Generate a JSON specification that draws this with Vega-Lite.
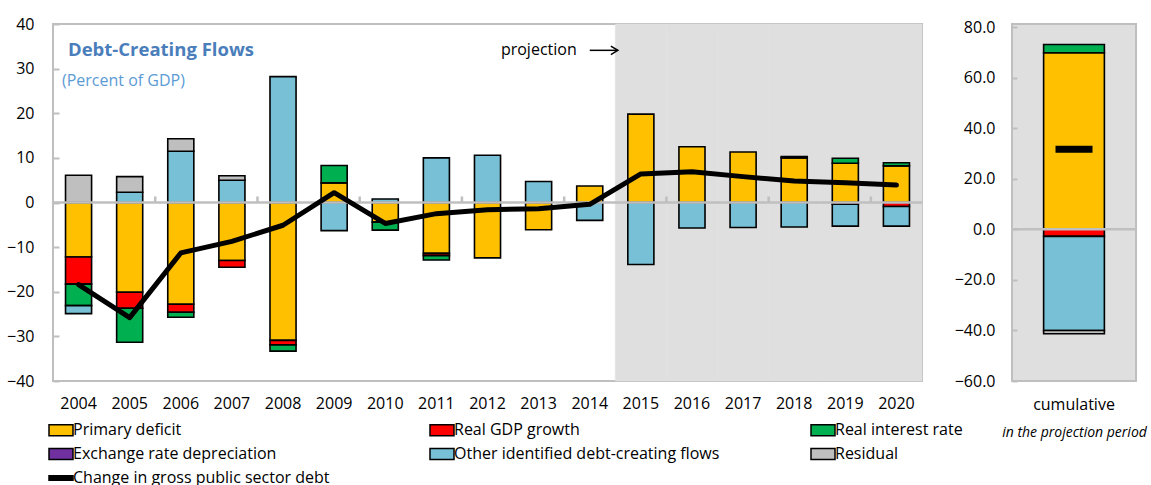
{
  "$schema": "https://vega.github.io/schema/vega-lite/v6.json",
  "padding": {"left": 5, "top": 15, "right": 5, "bottom": 0},
  "bounds": "flush",
  "spacing": 90,
  "config": {
    "font": "Open Sans",
    "view": {"stroke": "#bfbfbf", "strokeWidth": 2},
    "axis": {"labelFont": "Open Sans", "labelFontSize": 16, "labelColor": "#000000", "grid": false, "domain": false, "titleFont": "Open Sans"}
  },
  "datasets": {
    "flows": [
      {"year": 2004, "series": "Primary deficit", "k": 1, "value": -12.2},
      {"year": 2004, "series": "Real GDP growth", "k": 2, "value": -6.1},
      {"year": 2004, "series": "Real interest rate", "k": 3, "value": -4.8},
      {"year": 2004, "series": "Other identified debt-creating flows", "k": 5, "value": -1.8},
      {"year": 2004, "series": "Residual", "k": 6, "value": 6.1},
      {"year": 2005, "series": "Primary deficit", "k": 1, "value": -20.1},
      {"year": 2005, "series": "Real GDP growth", "k": 2, "value": -3.6},
      {"year": 2005, "series": "Real interest rate", "k": 3, "value": -7.6},
      {"year": 2005, "series": "Other identified debt-creating flows", "k": 5, "value": 2.3},
      {"year": 2005, "series": "Residual", "k": 6, "value": 3.5},
      {"year": 2006, "series": "Primary deficit", "k": 1, "value": -22.8},
      {"year": 2006, "series": "Real GDP growth", "k": 2, "value": -1.8},
      {"year": 2006, "series": "Real interest rate", "k": 3, "value": -1.1},
      {"year": 2006, "series": "Other identified debt-creating flows", "k": 5, "value": 11.5},
      {"year": 2006, "series": "Residual", "k": 6, "value": 2.8},
      {"year": 2007, "series": "Primary deficit", "k": 1, "value": -13.0},
      {"year": 2007, "series": "Real GDP growth", "k": 2, "value": -1.5},
      {"year": 2007, "series": "Other identified debt-creating flows", "k": 5, "value": 5.0},
      {"year": 2007, "series": "Residual", "k": 6, "value": 1.0},
      {"year": 2008, "series": "Primary deficit", "k": 1, "value": -30.9},
      {"year": 2008, "series": "Real GDP growth", "k": 2, "value": -1.0},
      {"year": 2008, "series": "Real interest rate", "k": 3, "value": -1.4},
      {"year": 2008, "series": "Other identified debt-creating flows", "k": 5, "value": 28.2},
      {"year": 2009, "series": "Primary deficit", "k": 1, "value": 4.4},
      {"year": 2009, "series": "Real interest rate", "k": 3, "value": 3.9},
      {"year": 2009, "series": "Other identified debt-creating flows", "k": 5, "value": -6.3},
      {"year": 2010, "series": "Primary deficit", "k": 1, "value": -4.4},
      {"year": 2010, "series": "Real interest rate", "k": 3, "value": -1.8},
      {"year": 2010, "series": "Other identified debt-creating flows", "k": 5, "value": 0.8},
      {"year": 2011, "series": "Primary deficit", "k": 1, "value": -11.4},
      {"year": 2011, "series": "Real GDP growth", "k": 2, "value": -0.5},
      {"year": 2011, "series": "Real interest rate", "k": 3, "value": -1.0},
      {"year": 2011, "series": "Other identified debt-creating flows", "k": 5, "value": 10.0},
      {"year": 2012, "series": "Primary deficit", "k": 1, "value": -12.4},
      {"year": 2012, "series": "Other identified debt-creating flows", "k": 5, "value": 10.6},
      {"year": 2013, "series": "Primary deficit", "k": 1, "value": -6.1},
      {"year": 2013, "series": "Other identified debt-creating flows", "k": 5, "value": 4.7},
      {"year": 2014, "series": "Primary deficit", "k": 1, "value": 3.7},
      {"year": 2014, "series": "Other identified debt-creating flows", "k": 5, "value": -4.0},
      {"year": 2015, "series": "Primary deficit", "k": 1, "value": 19.8},
      {"year": 2015, "series": "Other identified debt-creating flows", "k": 5, "value": -13.9},
      {"year": 2016, "series": "Primary deficit", "k": 1, "value": 12.5},
      {"year": 2016, "series": "Other identified debt-creating flows", "k": 5, "value": -5.7},
      {"year": 2017, "series": "Primary deficit", "k": 1, "value": 11.3},
      {"year": 2017, "series": "Other identified debt-creating flows", "k": 5, "value": -5.6},
      {"year": 2018, "series": "Primary deficit", "k": 1, "value": 10.0},
      {"year": 2018, "series": "Real interest rate", "k": 3, "value": 0.3},
      {"year": 2018, "series": "Other identified debt-creating flows", "k": 5, "value": -5.5},
      {"year": 2019, "series": "Primary deficit", "k": 1, "value": 8.8},
      {"year": 2019, "series": "Real interest rate", "k": 3, "value": 1.1},
      {"year": 2019, "series": "Real GDP growth", "k": 2, "value": -0.4},
      {"year": 2019, "series": "Other identified debt-creating flows", "k": 5, "value": -4.9},
      {"year": 2020, "series": "Primary deficit", "k": 1, "value": 8.2},
      {"year": 2020, "series": "Real interest rate", "k": 3, "value": 0.7},
      {"year": 2020, "series": "Real GDP growth", "k": 2, "value": -0.9},
      {"year": 2020, "series": "Other identified debt-creating flows", "k": 5, "value": -4.4}
    ],
    "debt": [
      {"year": 2004, "debt": -18.4},
      {"year": 2005, "debt": -25.8},
      {"year": 2006, "debt": -11.3},
      {"year": 2007, "debt": -8.7},
      {"year": 2008, "debt": -5.1},
      {"year": 2009, "debt": 2.2},
      {"year": 2010, "debt": -4.7},
      {"year": 2011, "debt": -2.5},
      {"year": 2012, "debt": -1.6},
      {"year": 2013, "debt": -1.4},
      {"year": 2014, "debt": -0.4},
      {"year": 2015, "debt": 6.4},
      {"year": 2016, "debt": 6.9},
      {"year": 2017, "debt": 5.8},
      {"year": 2018, "debt": 4.8},
      {"year": 2019, "debt": 4.4},
      {"year": 2020, "debt": 3.9}
    ],
    "shade": [{"year": 2015}, {"year": 2016}, {"year": 2017}, {"year": 2018}, {"year": 2019}, {"year": 2020}],
    "ticks": [{"year": 2006}, {"year": 2008}, {"year": 2010}, {"year": 2012}, {"year": 2014}, {"year": 2016}, {"year": 2018}, {"year": 2020}],
    "cum": [
      {"period": "cumulative", "series": "Primary deficit", "k": 1, "value": 69.8},
      {"period": "cumulative", "series": "Real GDP growth", "k": 2, "value": -2.8},
      {"period": "cumulative", "series": "Real interest rate", "k": 3, "value": 3.3},
      {"period": "cumulative", "series": "Other identified debt-creating flows", "k": 5, "value": -37.2},
      {"period": "cumulative", "series": "Residual", "k": 6, "value": -1.3}
    ],
    "cumdebt": [{"period": "cumulative", "debt": 31.7}]
  },
  "hconcat": [
    {
      "width": 869,
      "height": 357,
      "layer": [
        {
          "data": {"name": "shade"},
          "mark": {"type": "rect", "fill": "#dfdfdf", "stroke": "#dfdfdf", "strokeWidth": 0.5},
          "encoding": {
            "x": {"field": "year", "type": "ordinal"},
            "y": {"datum": -40, "type": "quantitative"},
            "y2": {"datum": 40}
          }
        },
        {
          "data": {"name": "flows"},
          "mark": {"type": "bar", "stroke": "#000000", "strokeWidth": 1.6, "width": {"band": 0.51}},
          "encoding": {
            "x": {
              "field": "year", "type": "ordinal",
              "scale": {"domain": [2004, 2005, 2006, 2007, 2008, 2009, 2010, 2011, 2012, 2013, 2014, 2015, 2016, 2017, 2018, 2019, 2020], "paddingInner": 0, "paddingOuter": 0},
              "axis": {"title": null, "ticks": false, "labelPadding": 14, "labelAngle": 0, "labelAlign": "center", "labelBaseline": "top", "bandPosition": 0.5}
            },
            "y": {
              "field": "value", "type": "quantitative", "stack": "zero",
              "scale": {"domain": [-40, 40], "nice": false},
              "axis": {"title": null, "values": [-40, -30, -20, -10, 0, 10, 20, 30, 40], "tickSize": -6, "tickColor": "#bfbfbf", "tickWidth": 2, "labelPadding": 25}
            },
            "order": {"field": "k", "type": "quantitative", "sort": "ascending"},
            "color": {
              "field": "series", "type": "nominal",
              "scale": {
                "domain": ["Primary deficit", "Real GDP growth", "Real interest rate", "Exchange rate depreciation", "Other identified debt-creating flows", "Residual", "Change in gross public sector debt"],
                "range": ["#FFC000", "#FF0000", "#00B050", "#7030A0", "#78C0D6", "#BFBFBF", "#000000"]
              },
              "legend": {
                "title": null, "orient": "none", "legendX": 0, "legendY": 398, "direction": "horizontal",
                "columns": 3, "gridAlign": "all", "columnPadding": 88, "rowPadding": 6,
                "labelFont": "Open Sans", "labelFontSize": 16, "labelColor": "#000000", "labelOffset": 4, "labelLimit": 400,
                "symbolSize": 144,
                "symbolType": {"expr": "datum.value === 'Change in gross public sector debt' ? 'M-2,-0.36H2V0.36H-2Z' : 'M-2,-0.92H2V0.92H-2Z'"},
                "symbolStrokeColor": "#000000",
                "symbolStrokeWidth": 1.5
              }
            }
          }
        },
        {
          "data": {"values": [{}]},
          "mark": {"type": "rule", "color": "#bfbfbf", "strokeWidth": 2.5},
          "encoding": {"y": {"datum": 0, "type": "quantitative"}}
        },
        {
          "data": {"name": "ticks"},
          "mark": {"type": "rule", "color": "#bfbfbf", "strokeWidth": 2.5, "xOffset": -25.56},
          "encoding": {
            "x": {"field": "year", "type": "ordinal"},
            "y": {"datum": 0, "type": "quantitative"},
            "y2": {"datum": 1.35}
          }
        },
        {
          "data": {"name": "debt"},
          "mark": {"type": "line", "color": "#000000", "strokeWidth": 5, "strokeJoin": "round", "strokeCap": "round"},
          "encoding": {
            "x": {"field": "year", "type": "ordinal"},
            "y": {"field": "debt", "type": "quantitative"}
          }
        },
        {
          "data": {"values": [{}]},
          "mark": {"type": "text", "text": "Debt-Creating  Flows", "align": "left", "baseline": "middle", "fontSize": 18.5, "fontWeight": "bold", "color": "#4a7ebb", "dx": -10.6},
          "encoding": {"x": {"datum": 2004, "type": "ordinal"}, "y": {"datum": 34.1, "type": "quantitative"}}
        },
        {
          "data": {"values": [{}]},
          "mark": {"type": "text", "text": "(Percent of GDP)", "align": "left", "baseline": "middle", "fontSize": 16, "color": "#5b9bd5", "dx": -16.6},
          "encoding": {"x": {"datum": 2004, "type": "ordinal"}, "y": {"datum": 27.2, "type": "quantitative"}}
        },
        {
          "data": {"values": [{}]},
          "mark": {"type": "text", "text": "projection", "align": "right", "baseline": "middle", "fontSize": 16, "color": "#000000", "dx": -13},
          "encoding": {"x": {"datum": 2014, "type": "ordinal"}, "y": {"datum": 34.1, "type": "quantitative"}}
        },
        {
          "data": {"values": [{}]},
          "mark": {"type": "rule", "color": "#000000", "strokeWidth": 1.5, "x2Offset": -23},
          "encoding": {"x": {"datum": 2014, "type": "ordinal"}, "x2": {"datum": 2015}, "y": {"datum": 34.1, "type": "quantitative"}}
        },
        {
          "data": {"values": [{}]},
          "mark": {"type": "point", "shape": "M-1,-0.6L0,0L-1,0.6", "size": 196, "filled": false, "stroke": "#000000", "strokeWidth": 1.5, "opacity": 1, "xOffset": -23},
          "encoding": {"x": {"datum": 2015, "type": "ordinal"}, "y": {"datum": 34.1, "type": "quantitative"}}
        }
      ]
    },
    {
      "width": 124,
      "height": 357,
      "view": {"fill": "#dfdfdf", "stroke": "#bfbfbf", "strokeWidth": 2},
      "layer": [
        {
          "data": {"name": "cum"},
          "mark": {"type": "bar", "stroke": "#000000", "strokeWidth": 1.6, "width": {"band": 0.49}},
          "encoding": {
            "x": {
              "field": "period", "type": "nominal",
              "scale": {"paddingInner": 0, "paddingOuter": 0},
              "axis": {"title": "in the projection period", "titleFontStyle": "italic", "titleFontWeight": "normal", "titleFontSize": 14, "titlePadding": 13, "ticks": false, "labelPadding": 15, "labelAngle": 0, "labelAlign": "center", "labelBaseline": "top"}
            },
            "y": {
              "field": "value", "type": "quantitative", "stack": "zero",
              "scale": {"domain": [-60, 81.2], "nice": false},
              "axis": {"title": null, "values": [-60, -40, -20, 0, 20, 40, 60, 80], "format": ".1f", "tickSize": -5, "tickColor": "#bfbfbf", "tickWidth": 2, "labelPadding": 22}
            },
            "order": {"field": "k", "type": "quantitative", "sort": "ascending"},
            "color": {"field": "series", "type": "nominal"}
          }
        },
        {
          "data": {"values": [{}]},
          "mark": {"type": "rule", "color": "#bfbfbf", "strokeWidth": 2.5},
          "encoding": {"y": {"datum": 0, "type": "quantitative"}}
        },
        {
          "data": {"name": "cumdebt"},
          "mark": {"type": "tick", "color": "#000000", "thickness": 7, "size": 37, "opacity": 1},
          "encoding": {
            "x": {"field": "period", "type": "nominal"},
            "y": {"field": "debt", "type": "quantitative"}
          }
        }
      ]
    }
  ]
}
